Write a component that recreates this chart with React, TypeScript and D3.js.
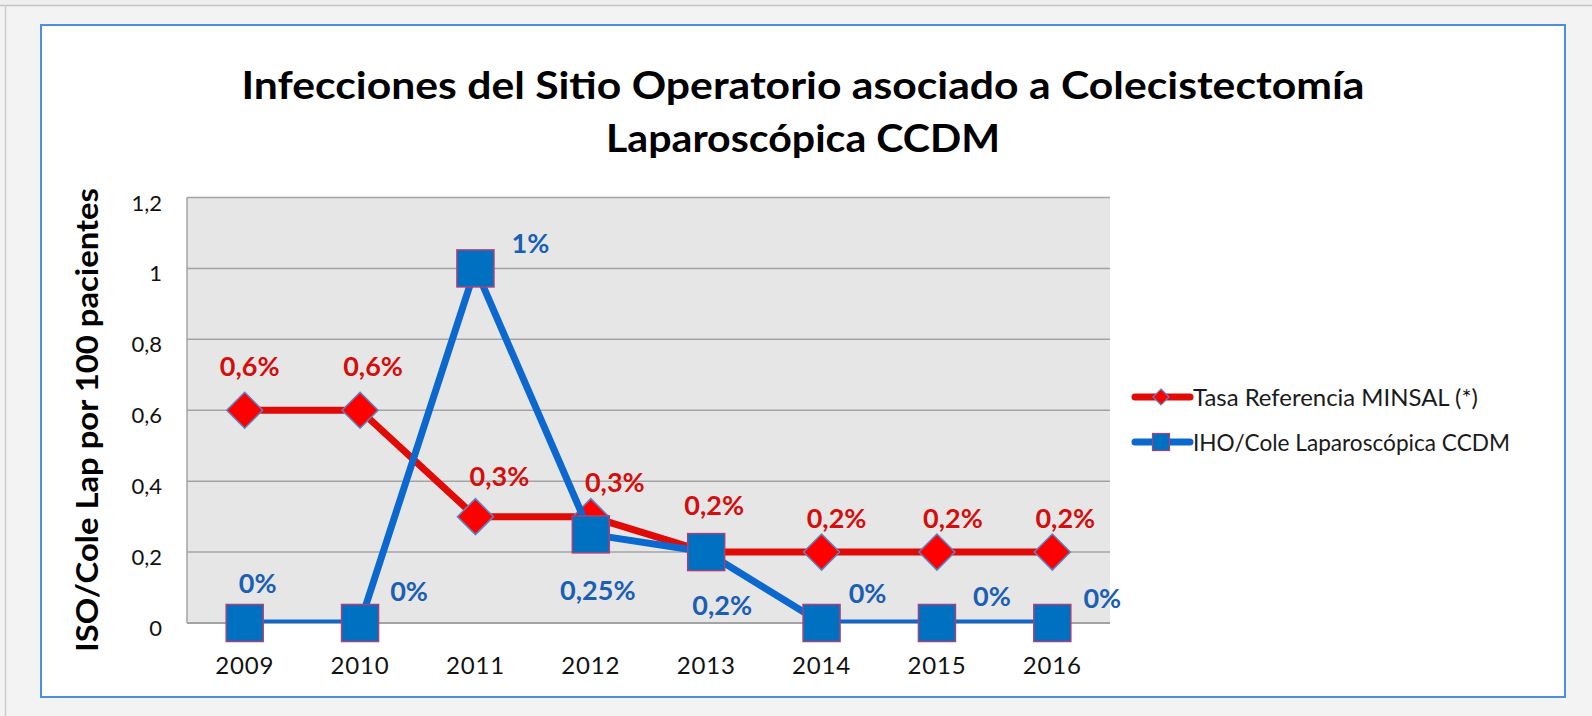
import React from "react";
import * as d3 from "d3";

const years = ["2009", "2010", "2011", "2012", "2013", "2014", "2015", "2016"];
const minsalValues = [0.6, 0.6, 0.3, 0.3, 0.2, 0.2, 0.2, 0.2];
const ihoValues = [0, 0, 1, 0.25, 0.2, 0, 0, 0];
const minsalLabels = ["0,6%", "0,6%", "0,3%", "0,3%", "0,2%", "0,2%", "0,2%", "0,2%"];
const ihoLabels = ["0%", "0%", "1%", "0,25%", "0,2%", "0%", "0%", "0%"];
const yTicks = [0, 0.2, 0.4, 0.6, 0.8, 1, 1.2];
const yTickLabels = ["0", "0,2", "0,4", "0,6", "0,8", "1", "1,2"];
const titleLines = [
  "Infecciones del Sitio Operatorio asociado a Colecistectomía",
  "Laparoscópica CCDM",
];
const yAxisTitle = "ISO/Cole Lap por 100 pacientes";
const seriesNames = ["Tasa Referencia MINSAL (*)", "IHO/Cole Laparoscópica CCDM"];

// manual label placement (px offsets from the point), as in the original
const minsalLabelOffsets: [number, number][] = [
  [5, -34], [13, -34], [24, -31], [24, -25], [8, -37], [15, -24], [16, -24], [13, -24],
];
const ihoLabelOffsets: [number, number][] = [
  [13, -30], [49, -22], [55, -15], [7, 66], [16, 63], [46, -20], [55, -17], [50, -15],
];

const W = 1592;
const H = 716;
const FONT = "Lato, 'Open Sans', 'DejaVu Sans', sans-serif";
const RED = "#e00a06";
const RED_TXT = "#d40d0d";
const BLUE = "#0b68cf";
const BLUE_FILL = "#0070c0";
const BLUE_TXT = "#1a5fb4";
const SQ_STROKE = "#a8417a";
const DIA_STROKE = "#5b86c5";

export default function App() {
  const plot = { left: 187, right: 1110, top: 197.5, bottom: 623 };
  const x = d3.scaleBand<string>().domain(years).range([plot.left, plot.right]);
  const cx = (yr: string) => (x(yr) as number) + x.bandwidth() / 2;
  const y = d3.scaleLinear().domain([0, 1.2]).range([plot.bottom, plot.top]);

  const line = d3
    .line<number>()
    .x((_, i) => cx(years[i]))
    .y((d) => y(d));

  const sq = 37;
  const dia = 18;
  const diamondPath = (px: number, py: number, r: number) =>
    `M${px},${py - r}L${px + r},${py}L${px},${py + r}L${px - r},${py}Z`;

  return (
    <div style={{ position: "fixed", left: 0, top: 0, width: W, height: H }}>
      <svg width={W} height={H} style={{ display: "block" }}>
        <defs>
          <clipPath id="plotClip">
            <rect x={plot.left} y={plot.top - 10} width={plot.right - plot.left} height={plot.bottom - plot.top + 10} />
          </clipPath>
        </defs>
        {/* page background */}
        <rect x={0} y={0} width={W} height={H} fill="#f3f3f3" />
        <rect x={0} y={0} width={W} height={5} fill="#edf0ef" />
        <line x1={0} x2={W} y1={5.5} y2={5.5} stroke="#c4c4c4" strokeWidth={1.5} />
        <line x1={5.5} x2={5.5} y1={5} y2={H} stroke="#cacaca" strokeWidth={1.5} />
        {/* chart box */}
        <rect x={41} y={25} width={1524} height={672} fill="#ffffff" stroke="#4a90de" strokeWidth={2} />

        {/* title */}
        <text x={803} y={99} textAnchor="middle" fontFamily={FONT} fontWeight={700} fontSize={38} fill="#000" textLength={1123} lengthAdjust="spacingAndGlyphs">
          {titleLines[0]}
        </text>
        <text x={803} y={152} textAnchor="middle" fontFamily={FONT} fontWeight={700} fontSize={38} fill="#000" textLength={394} lengthAdjust="spacingAndGlyphs">
          {titleLines[1]}
        </text>

        {/* plot area */}
        <rect x={plot.left} y={plot.top} width={plot.right - plot.left} height={plot.bottom - plot.top} fill="#e6e6e6" />
        {yTicks.map((t) => (
          <line key={"g" + t} x1={plot.left} x2={plot.right} y1={y(t)} y2={y(t)} stroke="#a3a3a3" strokeWidth={1.5} />
        ))}
        <line x1={plot.left} x2={plot.left} y1={plot.top} y2={plot.bottom} stroke="#a3a3a3" strokeWidth={1.5} />
        <line x1={plot.left} x2={plot.right} y1={plot.bottom} y2={plot.bottom} stroke="#a3a3a3" strokeWidth={2} />

        {/* y tick labels */}
        {yTicks.map((t, i) => (
          <text key={"yl" + t} x={162} y={y(t) + 13} textAnchor="end" fontFamily={FONT} fontSize={22} fill="#111">
            {yTickLabels[i]}
          </text>
        ))}
        {/* x tick labels */}
        {years.map((yr) => (
          <text key={"xl" + yr} x={cx(yr)} y={674} textAnchor="middle" fontFamily={FONT} fontSize={24} fill="#111" letterSpacing={0.8}>
            {yr}
          </text>
        ))}

        {/* y axis title */}
        <text
          transform="translate(98,420) rotate(-90)"
          textAnchor="middle"
          fontFamily={FONT}
          fontWeight={700}
          fontSize={31}
          fill="#000"
          textLength={464}
          lengthAdjust="spacingAndGlyphs"
        >
          {yAxisTitle}
        </text>

        {/* MINSAL series */}
        <path d={line(minsalValues) as string} fill="none" stroke={RED} strokeWidth={7} strokeLinejoin="round" clipPath="url(#plotClip)" />
        {minsalValues.map((v, i) => (
          <path key={"d" + i} d={diamondPath(cx(years[i]), y(v), dia)} fill="#ff0000" stroke={DIA_STROKE} strokeWidth={1.5} />
        ))}

        {/* IHO series */}
        <path d={line(ihoValues) as string} fill="none" stroke={BLUE} strokeWidth={7} strokeLinejoin="round" clipPath="url(#plotClip)" />
        {ihoValues.map((v, i) => (
          <rect key={"s" + i} x={cx(years[i]) - sq / 2} y={y(v) - sq / 2} width={sq} height={sq} fill={BLUE_FILL} stroke={SQ_STROKE} strokeWidth={1.5} />
        ))}

        {/* data labels */}
        {minsalValues.map((v, i) => (
          <text key={"rl" + i} x={cx(years[i]) + minsalLabelOffsets[i][0]} y={y(v) + minsalLabelOffsets[i][1]} textAnchor="middle" fontFamily={FONT} fontWeight={700} fontSize={27} fill={RED_TXT}>
            {minsalLabels[i]}
          </text>
        ))}
        {ihoValues.map((v, i) => (
          <text key={"bl" + i} x={cx(years[i]) + ihoLabelOffsets[i][0]} y={y(v) + ihoLabelOffsets[i][1]} textAnchor="middle" fontFamily={FONT} fontWeight={700} fontSize={27} fill={BLUE_TXT}>
            {ihoLabels[i]}
          </text>
        ))}

        {/* legend */}
        <line x1={1135} x2={1190} y1={397} y2={397} stroke={RED} strokeWidth={7} strokeLinecap="round" />
        <path d={diamondPath(1161, 397, 8)} fill="#ff0000" stroke={DIA_STROKE} strokeWidth={1.2} />
        <text x={1193} y={406} fontFamily={FONT} fontSize={23} fill="#1a1a1a" textLength={285} lengthAdjust="spacingAndGlyphs">
          {seriesNames[0]}
        </text>
        <line x1={1135} x2={1190} y1={442} y2={442} stroke={BLUE} strokeWidth={7} strokeLinecap="round" />
        <rect x={1161 - 8.5} y={442 - 8.5} width={17} height={17} fill={BLUE_FILL} stroke={SQ_STROKE} strokeWidth={1.2} />
        <text x={1193} y={451} fontFamily={FONT} fontSize={23} fill="#1a1a1a" textLength={317} lengthAdjust="spacingAndGlyphs">
          {seriesNames[1]}
        </text>
      </svg>
    </div>
  );
}
